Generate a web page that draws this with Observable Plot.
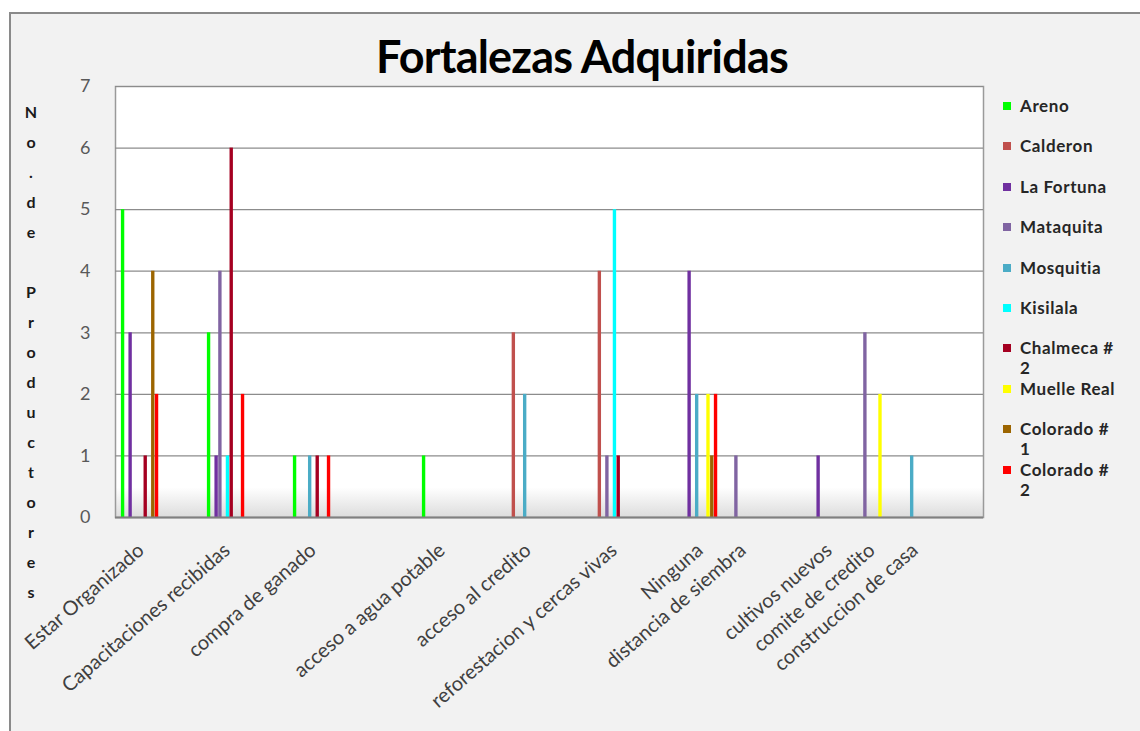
<!DOCTYPE html>
<html>
<head>
<meta charset="utf-8">
<script src="https://cdn.jsdelivr.net/npm/d3@7"></script>
<script src="https://cdn.jsdelivr.net/npm/@observablehq/plot@0.6"></script>
<style>
  html, body { margin: 0; padding: 0; background: #fff; }
  body { width: 1140px; height: 731px; overflow: hidden; position: relative; font-family: Lato, "Open Sans", sans-serif; }
  #panel { position: absolute; left: 9px; top: 12px; width: 1160px; height: 740px; background: #f2f2f2;
           border-left: 2px solid #8a8a8a; border-top: 2px solid #8a8a8a; }
  #title { position: absolute; left: 0; top: 29px; width: 1164px; text-align: center;
           font: bold 45px Lato, sans-serif; color: #000; letter-spacing: -0.8px; }
  #ylabel { position: absolute; left: 21px; top: 97px; width: 20px; text-align: center;
            font: bold 16px Lato, sans-serif; color: #1a1a1a; line-height: 30px; }
  #chart { position: absolute; left: 0; top: 0; }
  #legend { position: absolute; left: 1003px; top: 96px; }
  .item { position: relative; height: 40.4px; }
  .sw { position: absolute; left: 0; top: 6px; width: 8px; height: 8px; }
  .lab { margin-left: 17px; width: 100px; font: bold 17px Lato, sans-serif; letter-spacing: 0.6px;
         color: #262626; line-height: 20px; }
</style>
</head>
<body>
<div id="panel"></div>
<div id="title">Fortalezas Adquiridas</div>
<div id="ylabel"></div>
<div id="chart"></div>
<div id="legend"></div>
<script>
// Category labels along the x axis (blank slots are categories without a label)
const categories = [
  "Estar Organizado", "", "Capacitaciones recibidas", "", "compra de ganado", "", "",
  "acceso a agua potable", "", "acceso al credito", "", "reforestacion y cercas vivas", "",
  "Ninguna", "distancia de siembra", "", "cultivos nuevos", "comite de credito",
  "construccion de casa", ""
];

// Communities (one column per category slot)
const series = ["Areno", "Calderon", "La Fortuna", "Mataquita", "Mosquitia",
                "Kisilala", "Chalmeca # 2", "Muelle Real", "Colorado # 1", "Colorado # 2"];
const colors = ["#00ff00", "#c0504d", "#7030a0", "#8064a2", "#4bacc6",
                "#00ffff", "#a50021", "#ffff00", "#9c6500", "#ff0000"];

// Number of producers per category, per community
const areno      = [5,0,3,0,1,0,0,1,0,0,0,0,0,0,0,0,0,0,0,0];
const calderon   = [0,0,0,0,0,0,0,0,0,3,0,4,0,0,0,0,0,0,0,0];
const laFortuna  = [3,0,1,0,0,0,0,0,0,0,0,0,0,4,0,0,1,0,0,0];
const mataquita  = [0,0,4,0,0,0,0,0,0,0,0,1,0,0,1,0,0,3,0,0];
const mosquitia  = [0,0,0,0,1,0,0,0,0,2,0,0,0,2,0,0,0,0,1,0];
const kisilala   = [0,0,1,0,0,0,0,0,0,0,0,5,0,0,0,0,0,0,0,0];
const chalmeca2  = [1,0,6,0,1,0,0,0,0,0,0,1,0,0,0,0,0,0,0,0];
const muelleReal = [0,0,0,0,0,0,0,0,0,0,0,0,0,2,0,0,0,2,0,0];
const colorado1  = [4,0,0,0,0,0,0,0,0,0,0,0,0,1,0,0,0,0,0,0];
const colorado2  = [2,0,2,0,1,0,0,0,0,0,0,0,0,2,0,0,0,0,0,0];

const yTicks = [0, 1, 2, 3, 4, 5, 6, 7];
const yLabel = "No.de Productores";

const values = [areno, calderon, laFortuna, mataquita, mosquitia,
                kisilala, chalmeca2, muelleReal, colorado1, colorado2];

const rows = series.flatMap((s, i) =>
  values[i].map((v, c) => ({cat: c, series: s, value: v}))
).filter(d => d.value > 0);

// Layout of the plotting area
const chartWidth = 1000, chartHeight = 731;
const plotLeft = 115, plotRight = 983, plotTop = 86, plotBottom = 517;
const step = (plotRight - plotLeft) / categories.length;
const bar = step / 11.5; // ten columns plus a 150% gap per category

const chart = Plot.plot({
  width: chartWidth, height: chartHeight,
  marginLeft: plotLeft, marginRight: chartWidth - plotRight,
  marginTop: plotTop, marginBottom: chartHeight - plotBottom,
  style: {background: "transparent", fontFamily: "Lato, sans-serif", fontSize: "16px", overflow: "visible"},
  x: {type: "band", domain: d3.range(categories.length), padding: 0,
      tickFormat: i => categories[i], tickRotate: -41, tickSize: 0, tickPadding: 30, label: null},
  y: {domain: [0, 7], ticks: yTicks, tickFormat: "d", tickSize: 0, tickPadding: 25, label: null},
  color: {domain: series, range: colors},
  marks: [
    Plot.frame({fill: "url(#plotfloor)", stroke: "#9a9a9a", strokeWidth: 1.5}),
    Plot.ruleY(yTicks, {stroke: "#8c8c8c", strokeWidth: 1.2}),
    ...series.map((s, i) => Plot.barY(rows.filter(d => d.series === s), {
      x: "cat", y: "value", fill: "series",
      insetLeft: bar * (0.5 + i), insetRight: step - bar * (1.5 + i)
    })),
    Plot.ruleY([0], {stroke: "#808080", strokeWidth: 2})
  ]
});

// Floor shading of the plotting area
d3.select(chart).insert("defs", ":first-child").html(
  `<linearGradient id="plotfloor" x1="0" y1="0" x2="0" y2="1">
     <stop offset="0" stop-color="#ffffff"/>
     <stop offset="0.93" stop-color="#ffffff"/>
     <stop offset="1" stop-color="#dcdcdc"/>
   </linearGradient>`);

d3.select(chart).selectAll('[aria-label^="x-axis"] text').attr("fill", "#404040").style("font-size", "20px");
d3.select(chart).selectAll('[aria-label^="y-axis"] text').attr("fill", "#595959").style("font-size", "18px");

document.getElementById("chart").appendChild(chart);

// Vertical, letter-by-letter axis title
document.getElementById("ylabel").innerHTML =
  Array.from(yLabel).map(ch => ch === " " ? "&nbsp;" : ch).join("<br>");

// Legend from the chart's color scale
const color = chart.scale("color");
const legend = d3.select("#legend");
color.domain.forEach((name, i) => {
  const item = legend.append("div").attr("class", "item");
  item.append("div").attr("class", "sw").style("background", color.range[i]);
  item.append("div").attr("class", "lab").text(name);
});
</script>
</body>
</html>
